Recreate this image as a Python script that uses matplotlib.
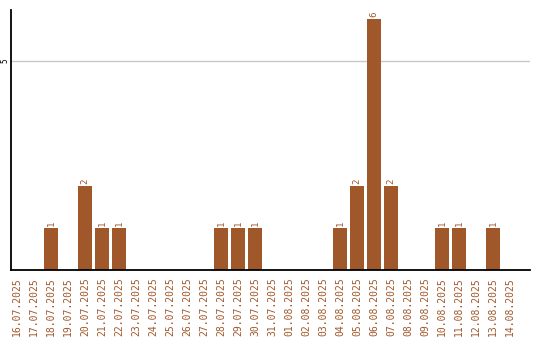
import matplotlib.pyplot as plt
import numpy as np

dates = ["16.07.2025", "17.07.2025", "18.07.2025", "19.07.2025", "20.07.2025",
         "21.07.2025", "22.07.2025", "23.07.2025", "24.07.2025", "25.07.2025",
         "26.07.2025", "27.07.2025", "28.07.2025", "29.07.2025", "30.07.2025",
         "31.07.2025", "01.08.2025", "02.08.2025", "03.08.2025", "04.08.2025",
         "05.08.2025", "06.08.2025", "07.08.2025", "08.08.2025", "09.08.2025",
         "10.08.2025", "11.08.2025", "12.08.2025", "13.08.2025", "14.08.2025"]
counts = [0, 0, 1, 0, 2, 1, 1, 0, 0, 0, 0, 0, 1, 1, 1,
          0, 0, 0, 0, 1, 2, 6, 2, 0, 0, 1, 1, 0, 1, 0]

brown = "#a0572a"

fig = plt.figure(figsize=(5.4, 3.4), dpi=100)
ax = fig.add_axes([11 / 540, 70 / 340, 519 / 540, 260 / 340])

x = np.arange(len(dates))
bars = ax.bar(x, counts, width=0.82, color=brown, zorder=2)

for xi, c in zip(x, counts):
    if c > 0:
        ax.annotate(str(c), (xi, c), xytext=(0, 1.5), textcoords="offset points",
                    ha="center", va="bottom", rotation=90, color=brown,
                    fontsize=6.5, family="DejaVu Sans Mono")

ax.set_xlim(-0.35, 30.18)
ax.set_ylim(0, 6.22)
ax.set_yticks([5])
ax.set_yticklabels(["5"], rotation=90, va="center", fontsize=5.5, family="DejaVu Sans Mono")
ax.yaxis.grid(True, color="#c8c8c8", linewidth=1, zorder=0)
ax.tick_params(axis="y", length=0, pad=1)

ax.set_xticks(x)
ax.set_xticklabels(dates, rotation=90, color=brown, fontsize=7,
                   family="DejaVu Sans Mono", ha="center", va="top")
ax.tick_params(axis="x", length=0, pad=5)

ax.spines["top"].set_visible(False)
ax.spines["right"].set_visible(False)
ax.spines["left"].set_linewidth(1.3)
ax.spines["bottom"].set_linewidth(1.3)

fig.savefig("out.png", dpi=100)
